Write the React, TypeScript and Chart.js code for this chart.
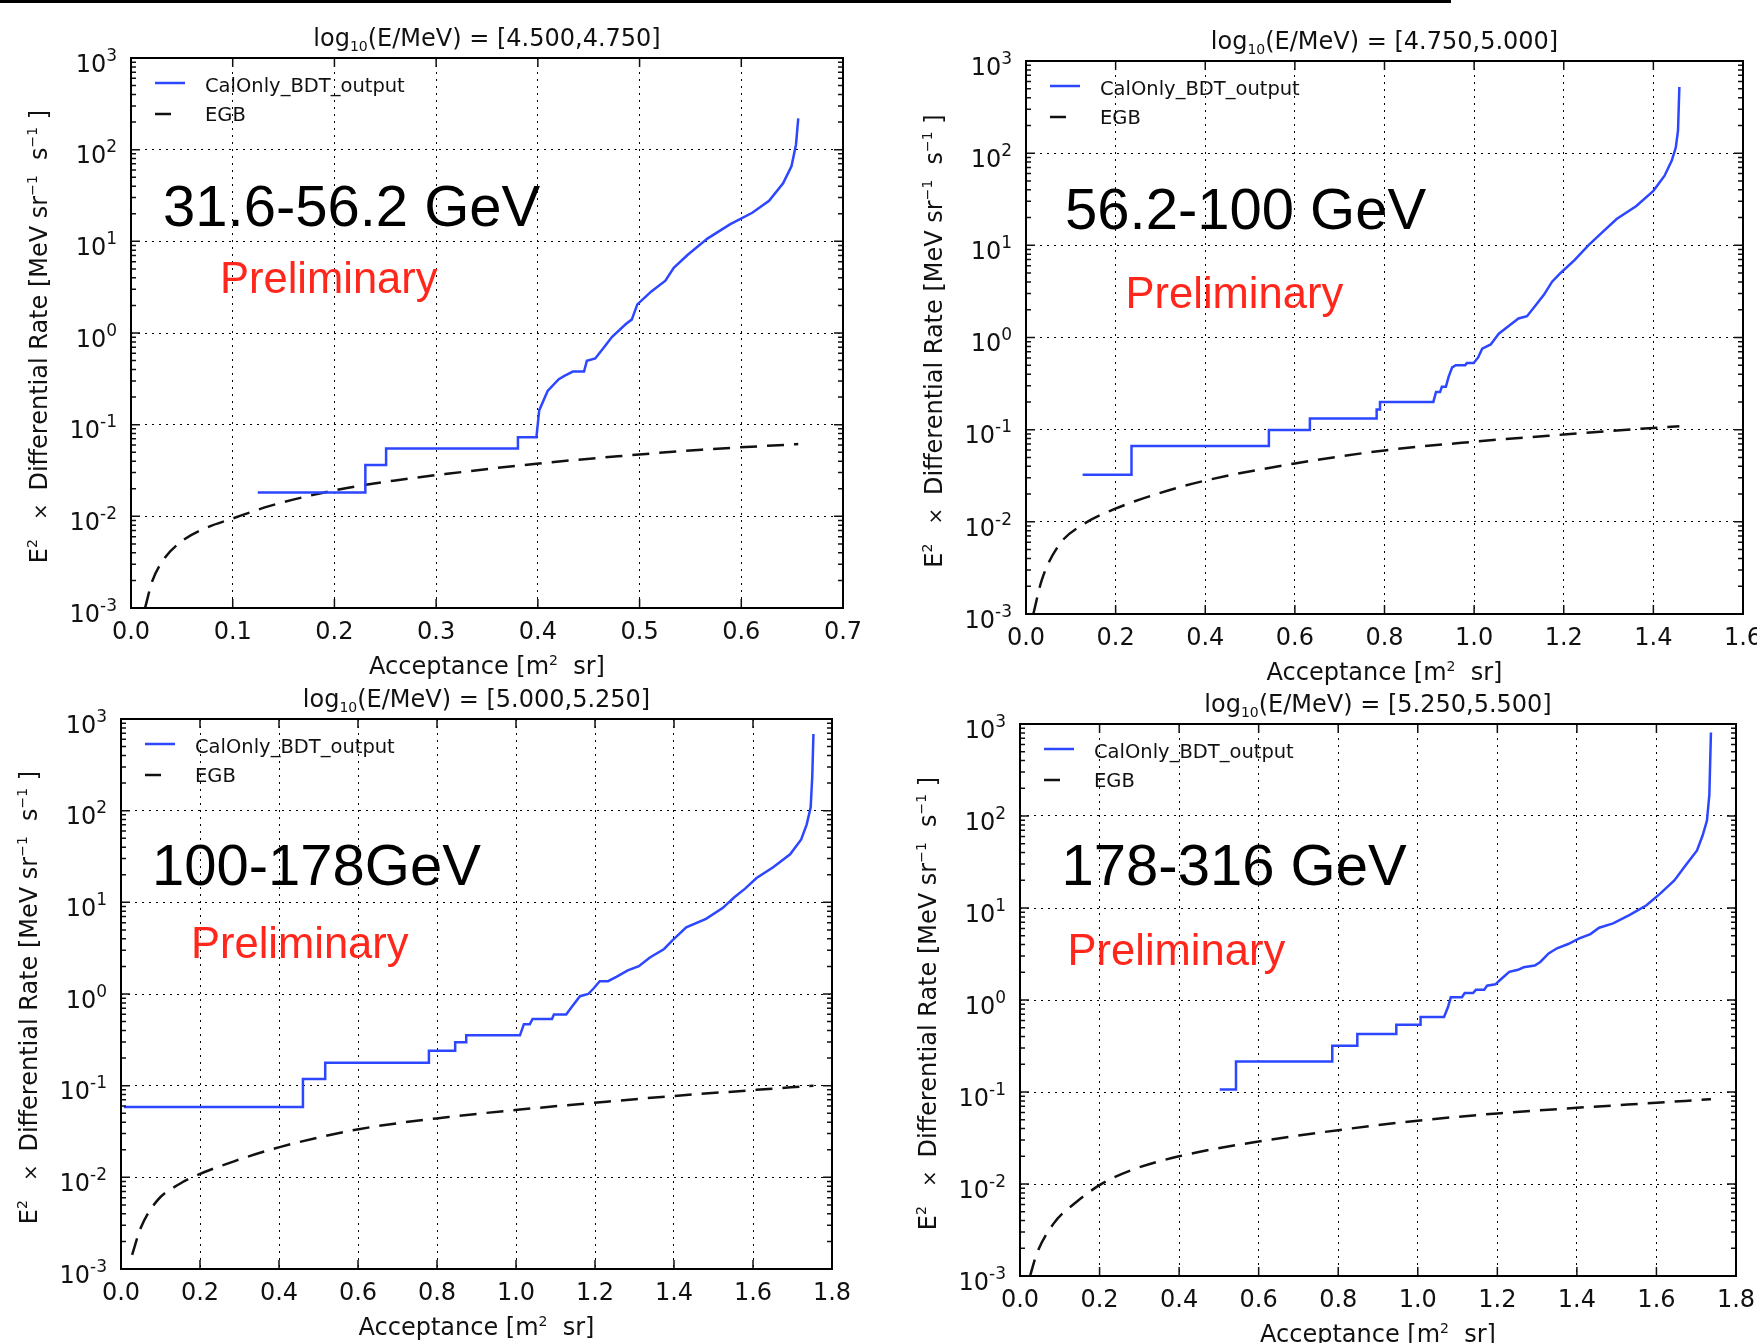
import React, { useEffect, useRef } from "react";
import { Chart, registerables } from "chart.js";

Chart.register(...registerables);

// ---------------- data ----------------
const yExponents = [-3, -2, -1, 0, 1, 2, 3];
const xTickLabelsA = ["0.0", "0.1", "0.2", "0.3", "0.4", "0.5", "0.6", "0.7"];
const xTickLabelsB = ["0.0", "0.2", "0.4", "0.6", "0.8", "1.0", "1.2", "1.4", "1.6"];
const xTickLabelsC = ["0.0", "0.2", "0.4", "0.6", "0.8", "1.0", "1.2", "1.4", "1.6", "1.8"];

const panelRanges = ["[4.500,4.750]", "[4.750,5.000]", "[5.000,5.250]", "[5.250,5.500]"];
const energyLabels = ["31.6-56.2 GeV", "56.2-100 GeV", "100-178GeV", "178-316 GeV"];
const legendLabels = ["CalOnly_BDT_output", "EGB"];
const prelimLabel = "Preliminary";

// Panel 1: log10(E/MeV) = [4.500,4.750]
const bdtAcc1 = [0.1246, 0.2304, 0.2304, 0.2508, 0.2508, 0.3804, 0.3804, 0.3986, 0.4013, 0.4096, 0.4206, 0.4261, 0.4344, 0.4454, 0.4482, 0.4564, 0.4647, 0.473, 0.4868, 0.4923, 0.4978, 0.5116, 0.5254, 0.5336, 0.5474, 0.5667, 0.5888, 0.6108, 0.6273, 0.6411, 0.6494, 0.6538, 0.656];
const bdtRate1 = [0.0182, 0.0182, 0.0364, 0.0364, 0.0551, 0.0551, 0.073, 0.073, 0.143, 0.233, 0.313, 0.341, 0.38, 0.38, 0.499, 0.527, 0.692, 0.908, 1.26, 1.4, 2.05, 2.84, 3.72, 5.15, 7.14, 10.7, 15.3, 20.5, 27.7, 42.9, 66.2, 114, 219];
const egbAcc1 = [0.0138, 0.0209, 0.032, 0.0485, 0.0706, 0.0998, 0.1367, 0.2001, 0.258, 0.313, 0.3986, 0.4785, 0.561, 0.656];
const egbRate1 = [0.001, 0.00196, 0.00337, 0.00521, 0.00722, 0.00946, 0.013, 0.0192, 0.0245, 0.0293, 0.0375, 0.0452, 0.0533, 0.0614];

// Panel 2: [4.750,5.000]
const bdtAcc2 = [0.1264, 0.2354, 0.2354, 0.542, 0.542, 0.6335, 0.6335, 0.7825, 0.7825, 0.79, 0.79, 0.909, 0.915, 0.924, 0.928, 0.937, 0.943, 0.951, 0.959, 0.98, 0.984, 0.999, 1.009, 1.018, 1.037, 1.055, 1.08, 1.099, 1.118, 1.137, 1.156, 1.174, 1.193, 1.224, 1.256, 1.287, 1.318, 1.362, 1.4, 1.425, 1.441, 1.45, 1.455, 1.458];
const bdtRate2 = [0.0325, 0.0325, 0.0664, 0.0664, 0.0989, 0.0989, 0.1325, 0.1325, 0.166, 0.166, 0.2, 0.2, 0.256, 0.256, 0.292, 0.292, 0.374, 0.474, 0.501, 0.501, 0.528, 0.528, 0.608, 0.755, 0.841, 1.1, 1.37, 1.61, 1.7, 2.22, 2.92, 4.03, 5.01, 6.92, 10.1, 14.0, 19.3, 26.7, 39.0, 57.0, 83.2, 115, 177, 523];
const egbAcc2 = [0.0163, 0.035, 0.0726, 0.129, 0.198, 0.298, 0.4, 0.6, 0.8, 1.0, 1.2, 1.4, 1.458];
const egbRate2 = [0.001, 0.00232, 0.00552, 0.00948, 0.0138, 0.0205, 0.028, 0.043, 0.0595, 0.074, 0.0885, 0.1045, 0.109];

// Panel 3: [5.000,5.250]
const bdtAcc3 = [0.0071, 0.4606, 0.4606, 0.517, 0.517, 0.7795, 0.7795, 0.846, 0.846, 0.874, 0.874, 1.01, 1.02, 1.035, 1.042, 1.091, 1.096, 1.127, 1.141, 1.162, 1.183, 1.198, 1.212, 1.233, 1.254, 1.283, 1.311, 1.339, 1.375, 1.396, 1.431, 1.481, 1.523, 1.552, 1.58, 1.609, 1.651, 1.694, 1.722, 1.736, 1.746, 1.75, 1.753];
const bdtRate3 = [0.0585, 0.0585, 0.118, 0.118, 0.1775, 0.1775, 0.24, 0.24, 0.298, 0.298, 0.354, 0.354, 0.469, 0.469, 0.534, 0.534, 0.596, 0.596, 0.723, 0.946, 1.0, 1.17, 1.38, 1.38, 1.54, 1.81, 2.01, 2.5, 3.1, 3.85, 5.33, 6.61, 8.65, 11.3, 14.1, 18.4, 24.1, 33.4, 48.6, 70.9, 109, 233, 685];
const egbAcc3 = [0.0283, 0.0496, 0.0921, 0.149, 0.18, 0.291, 0.404, 0.602, 0.829, 1.042, 1.198, 1.396, 1.609, 1.753];
const egbRate3 = [0.00143, 0.00278, 0.0056, 0.0085, 0.01, 0.0152, 0.0215, 0.0335, 0.0455, 0.0565, 0.065, 0.077, 0.09, 0.1];

// Panel 4: [5.250,5.500]
const bdtAcc4 = [0.502, 0.543, 0.543, 0.785, 0.785, 0.848, 0.848, 0.946, 0.946, 1.007, 1.007, 1.066, 1.076, 1.083, 1.111, 1.118, 1.139, 1.146, 1.167, 1.174, 1.195, 1.209, 1.23, 1.252, 1.266, 1.294, 1.308, 1.329, 1.35, 1.378, 1.406, 1.434, 1.456, 1.491, 1.533, 1.575, 1.61, 1.645, 1.673, 1.702, 1.716, 1.727, 1.733, 1.737];
const bdtRate4 = [0.1067, 0.1067, 0.214, 0.214, 0.318, 0.318, 0.426, 0.426, 0.539, 0.539, 0.655, 0.655, 0.838, 1.07, 1.07, 1.19, 1.19, 1.29, 1.29, 1.43, 1.48, 1.68, 2.02, 2.13, 2.27, 2.37, 2.59, 3.21, 3.65, 4.06, 4.67, 5.2, 6.11, 6.8, 8.42, 10.7, 14.4, 19.9, 29.0, 42.2, 61.4, 89.3, 170, 807];
const egbAcc4 = [0.0253, 0.0422, 0.0844, 0.141, 0.204, 0.281, 0.4, 0.6, 0.8, 1.0, 1.2, 1.4, 1.6, 1.737];
const egbRate4 = [0.001, 0.00175, 0.00371, 0.00634, 0.00995, 0.0142, 0.02, 0.029, 0.0385, 0.0488, 0.0585, 0.0673, 0.0764, 0.0834];

// ---------------- layout / style ----------------
const SANS = '"DejaVu Sans"';
const HELV = '"Liberation Sans"';
const BLUE = "rgb(45,70,255)";
const INK = "#111";
const RED = "rgb(255,38,28)";

type PanelCfg = {
  canvas: [number, number, number, number];
  plot: [number, number, number, number];
  xMax: number;
  xStep: number;
  xLabels: string[];
  range: string;
  energy: string;
  energyPos: [number, number];
  prelimPos: [number, number];
  bx: number[];
  by: number[];
  ex: number[];
  ey: number[];
};

const panels: PanelCfg[] = [
  {
    canvas: [0, 0, 880, 686], plot: [131, 58, 843, 608], xMax: 0.7, xStep: 0.1, xLabels: xTickLabelsA,
    range: panelRanges[0], energy: energyLabels[0], energyPos: [163, 225.5], prelimPos: [220, 292.7],
    bx: bdtAcc1, by: bdtRate1, ex: egbAcc1, ey: egbRate1,
  },
  {
    canvas: [880, 0, 877, 689], plot: [1026, 61, 1743, 614], xMax: 1.6, xStep: 0.2, xLabels: xTickLabelsB,
    range: panelRanges[1], energy: energyLabels[1], energyPos: [1065, 229], prelimPos: [1125.6, 308],
    bx: bdtAcc2, by: bdtRate2, ex: egbAcc2, ey: egbRate2,
  },
  {
    canvas: [0, 686, 880, 657], plot: [121, 719, 832, 1269], xMax: 1.8, xStep: 0.2, xLabels: xTickLabelsC,
    range: panelRanges[2], energy: energyLabels[2], energyPos: [152, 884.6], prelimPos: [191, 957.6],
    bx: bdtAcc3, by: bdtRate3, ex: egbAcc3, ey: egbRate3,
  },
  {
    canvas: [880, 689, 877, 654], plot: [1020, 724, 1736, 1276], xMax: 1.8, xStep: 0.2, xLabels: xTickLabelsC,
    range: panelRanges[3], energy: energyLabels[3], energyPos: [1061.6, 884.6], prelimPos: [1067.6, 965.3],
    bx: bdtAcc4, by: bdtRate4, ex: egbAcc4, ey: egbRate4,
  },
];

type Seg = { t: string; size: number; dy?: number };

function richWidth(ctx: CanvasRenderingContext2D, segs: Seg[], family: string) {
  let w = 0;
  for (const s of segs) {
    ctx.font = `${s.size}px ${family}`;
    w += ctx.measureText(s.t).width;
  }
  return w;
}

function drawRich(ctx: CanvasRenderingContext2D, segs: Seg[], x: number, y: number, align: "left" | "center" | "right", family: string) {
  const w = richWidth(ctx, segs, family);
  let cx = align === "center" ? x - w / 2 : align === "right" ? x - w : x;
  ctx.textAlign = "left";
  ctx.textBaseline = "alphabetic";
  for (const s of segs) {
    ctx.font = `${s.size}px ${family}`;
    ctx.fillText(s.t, cx, y + (s.dy || 0));
    cx += ctx.measureText(s.t).width;
  }
}

function makeDecor(cfg: PanelCfg) {
  const [cl, ct] = cfg.canvas;
  return {
    id: "decor",
    afterDraw(chart: any) {
      const ctx: CanvasRenderingContext2D = chart.ctx;
      const xs = chart.scales.x;
      const ys = chart.scales.y;
      const { left: l, right: r, top: t, bottom: b } = chart.chartArea;
      ctx.save();

      // tick marks (inside, all four sides)
      ctx.strokeStyle = INK;
      ctx.lineWidth = 1.5;
      ctx.setLineDash([]);
      ctx.beginPath();
      for (const lab of cfg.xLabels) {
        const px = xs.getPixelForValue(parseFloat(lab));
        ctx.moveTo(px, b); ctx.lineTo(px, b - 9);
        ctx.moveTo(px, t); ctx.lineTo(px, t + 9);
      }
      for (const e of yExponents) {
        const py = ys.getPixelForValue(Math.pow(10, e));
        ctx.moveTo(l, py); ctx.lineTo(l + 9, py);
        ctx.moveTo(r, py); ctx.lineTo(r - 9, py);
        if (e < 3) {
          for (let k = 2; k <= 9; k++) {
            const pm = ys.getPixelForValue(k * Math.pow(10, e));
            ctx.moveTo(l, pm); ctx.lineTo(l + 5, pm);
            ctx.moveTo(r, pm); ctx.lineTo(r - 5, pm);
          }
        }
      }
      ctx.stroke();

      // frame
      ctx.lineWidth = 2;
      ctx.strokeStyle = "#000";
      ctx.strokeRect(l, t, r - l, b - t);

      ctx.fillStyle = INK;
      // x tick labels
      ctx.font = `24px ${SANS}`;
      ctx.textAlign = "center";
      ctx.textBaseline = "alphabetic";
      for (const lab of cfg.xLabels) {
        const px = xs.getPixelForValue(parseFloat(lab));
        ctx.fillText(lab, px, b + 31);
      }
      // y tick labels 10^n
      for (const e of yExponents) {
        const py = ys.getPixelForValue(Math.pow(10, e));
        drawRich(ctx, [{ t: "10", size: 24 }, { t: String(e), size: 17, dy: -11 }], l - 14, py + 13.7, "right", SANS);
      }

      // title
      const cxp = (l + r) / 2;
      drawRich(ctx, [{ t: "log", size: 24 }, { t: "10", size: 14, dy: 5 }, { t: "(E/MeV) = " + cfg.range, size: 24 }], cxp, t - 12, "center", SANS);

      // x axis title
      drawRich(ctx, [{ t: "Acceptance [m", size: 24 }, { t: "2", size: 14, dy: -9 }, { t: "  sr]", size: 24 }], cxp, b + 66, "center", SANS);

      // y axis title (rotated)
      ctx.save();
      ctx.translate(l - 84, (t + b) / 2 + 3.5);
      ctx.rotate(-Math.PI / 2);
      drawRich(ctx, [
        { t: "E", size: 24 },
        { t: "2", size: 14, dy: -10 },
        { t: "   \u00d7  ", size: 20 },
        { t: "Differential Rate [MeV sr", size: 24 },
        { t: "\u22121", size: 14, dy: -10 },
        { t: "  s", size: 24 },
        { t: "\u22121", size: 14, dy: -10 },
        { t: " ]", size: 24 },
      ], 0, 0, "center", SANS);
      ctx.restore();

      // legend
      ctx.lineCap = "butt";
      ctx.lineWidth = 2.5;
      ctx.strokeStyle = BLUE;
      ctx.beginPath(); ctx.moveTo(l + 24, t + 25); ctx.lineTo(l + 54, t + 25); ctx.stroke();
      ctx.strokeStyle = INK;
      ctx.beginPath(); ctx.moveTo(l + 24, t + 56); ctx.lineTo(l + 40, t + 56); ctx.stroke();
      ctx.fillStyle = INK;
      ctx.font = `19.5px ${SANS}`;
      ctx.textAlign = "left";
      ctx.fillText(legendLabels[0], l + 74, t + 34);
      ctx.fillText(legendLabels[1], l + 74, t + 63);

      // annotations
      ctx.fillStyle = "#000";
      ctx.font = `58px ${HELV}`;
      ctx.fillText(cfg.energy, cfg.energyPos[0] - cl, cfg.energyPos[1] - ct);
      ctx.fillStyle = RED;
      ctx.font = `43.5px ${HELV}`;
      ctx.fillText(prelimLabel, cfg.prelimPos[0] - cl, cfg.prelimPos[1] - ct);

      ctx.restore();
    },
  };
}

function Panel({ cfg }: { cfg: PanelCfg }) {
  const ref = useRef<HTMLCanvasElement>(null);
  useEffect(() => {
    const canvas = ref.current as HTMLCanvasElement;
    const [cl, ct, cw, ch] = cfg.canvas;
    const [pl, pt, pr, pb] = cfg.plot;
    const gridOpts = { color: "#000", lineWidth: 1, drawTicks: false };
    const borderOpts = { display: false, dash: [2, 5] };
    const chart = new Chart(canvas, {
      type: "scatter",
      data: {
        datasets: [
          {
            label: legendLabels[0],
            data: cfg.bx.map((x, i) => ({ x, y: cfg.by[i] })),
            showLine: true,
            borderColor: BLUE,
            borderWidth: 2.5,
            pointRadius: 0,
            fill: false,
            tension: 0,
          },
          {
            label: legendLabels[1],
            data: cfg.ex.map((x, i) => ({ x, y: cfg.ey[i] })),
            showLine: true,
            borderColor: INK,
            borderWidth: 2.5,
            borderDash: [17, 10],
            pointRadius: 0,
            fill: false,
            cubicInterpolationMode: "monotone",
          },
        ],
      },
      options: {
        responsive: false,
        animation: false,
        devicePixelRatio: 1,
        events: [],
        layout: { padding: { left: 0, top: pt - ct, right: cl + cw - pr, bottom: 0 } },
        plugins: { legend: { display: false }, tooltip: { enabled: false }, title: { display: false } },
        scales: {
          x: {
            type: "linear",
            min: 0,
            max: cfg.xMax,
            ticks: { display: false, stepSize: cfg.xStep },
            grid: gridOpts,
            border: borderOpts,
            afterFit: (s: any) => { s.height = ct + ch - pb; },
          },
          y: {
            type: "logarithmic",
            min: 1e-3,
            max: 1e3,
            ticks: { display: false },
            grid: gridOpts,
            border: borderOpts,
            afterBuildTicks: (s: any) => { s.ticks = yExponents.map((e) => ({ value: Math.pow(10, e) })); },
            afterFit: (s: any) => { s.width = pl - cl; },
          },
        },
      } as any,
      plugins: [makeDecor(cfg)],
    });
    return () => chart.destroy();
  }, [cfg]);
  const [cl, ct, cw, ch] = cfg.canvas;
  return (
    <canvas
      ref={ref}
      width={cw}
      height={ch}
      style={{ position: "absolute", left: cl, top: ct, width: cw, height: ch, display: "block" }}
    />
  );
}

export default function App() {
  return (
    <div style={{ position: "absolute", left: 0, top: 0, width: 1757, height: 1343, background: "#fff", overflow: "hidden" }}>
      {panels.map((p, i) => (
        <Panel key={i} cfg={p} />
      ))}
      <div style={{ position: "absolute", left: 0, top: 0, width: 1451, height: 3, background: "#000" }} />
    </div>
  );
}
